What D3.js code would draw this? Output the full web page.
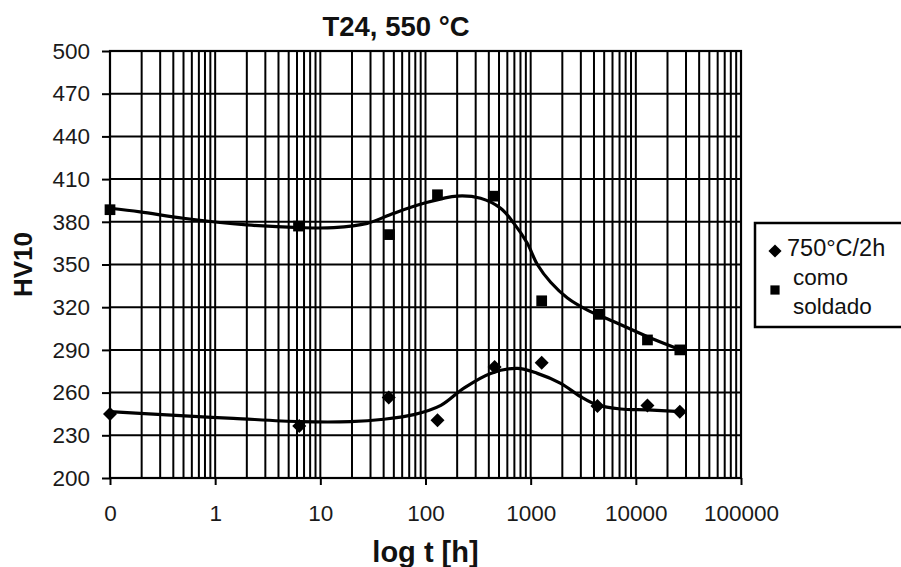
<!DOCTYPE html>
<html>
<head>
<meta charset="utf-8">
<script src="https://cdn.jsdelivr.net/npm/d3@7"></script>
<style>
  html, body { margin: 0; padding: 0; background: #fff; }
  svg { display: block; font-family: "Liberation Sans", Arial, sans-serif; }
</style>
</head>
<body>
<svg id="chart" width="901" height="567"></svg>
<script>
// Hardness HV10 of T24 welds aged at 550 °C versus log time.
// Time 0 is plotted at the first decade (0.1 h), labelled "0".

// --- tick labels ---
const xTickValues = [0.1, 1, 10, 100, 1000, 10000, 100000];
const xTickLabels = ["0", "1", "10", "100", "1000", "10000", "100000"];
const yTickValues = [200, 230, 260, 290, 320, 350, 380, 410, 440, 470, 500];

// --- measured points: 750°C/2h (diamonds) ---
const pwhtTimes = [0.1, 6.3, 44.7, 130, 454, 1273, 4315, 12900, 26200];
const pwhtHV    = [245, 236.5, 256.5, 240.5, 278, 281, 250.5, 251, 246.5];

// --- measured points: como soldado (squares) ---
const weldTimes = [0.1, 6.2, 45.4, 130, 454, 1273, 4540, 12900, 26200];
const weldHV    = [388.5, 377, 371, 399, 398, 324.5, 315, 297, 290];

// --- trend curve through the 750°C/2h points ---
const pwhtCurveT  = [0.1, 0.347, 1.49, 6.45, 19.3, 40.1, 77.5, 140, 230, 416, 747, 1158, 1931, 2993, 4315, 7197, 12920, 26830];
const pwhtCurveHV = [246.6, 244.3, 241.9, 239.6, 239.6, 241.3, 244.5, 251, 263, 273.5, 277, 273.5, 266.5, 257.1, 251.3, 248.5, 247.8, 246.6];

// --- trend curve through the como soldado points ---
const weldCurveT  = [0.1, 0.193, 0.5, 2.0, 6.45, 13.4, 27.9, 49.9, 96.4, 200, 334, 518, 693, 929, 1158, 1549, 2237, 3467, 6214, 12920, 26830];
const weldCurveHV = [389.5, 387, 382.5, 377.8, 375.9, 375.9, 378.9, 386, 393, 398.1, 396.5, 389.5, 378.9, 364.9, 350, 337.5, 326.5, 318, 309.8, 299.3, 290];

// --- legend entries ---
const legendLabels = [["750°C/2h"], ["como", "soldado"]];

const svg = d3.select("#chart");
const plotL = 110, plotR = 741, plotT = 51, plotB = 478;

const x = d3.scaleLog().domain([0.1, 100000]).range([plotL, plotR]);
const y = d3.scaleLinear().domain([200, 500]).range([plotB, plotT]);

const ink = "#000";
const gridW = 2;

// minor + major vertical grid (1..9 of every decade)
const gridX = [];
for (let e = -1; e < 5; e++) {
  for (let m = 1; m <= 9; m++) gridX.push(m * Math.pow(10, e));
}
gridX.push(100000);

const grid = svg.append("g");
grid.selectAll("line.v").data(gridX).join("line").attr("class", "v")
  .attr("x1", d => x(d)).attr("x2", d => x(d))
  .attr("y1", plotT).attr("y2", plotB)
  .attr("stroke", ink).attr("stroke-width", gridW);
grid.selectAll("line.h").data(yTickValues).join("line").attr("class", "h")
  .attr("x1", plotL).attr("x2", plotR)
  .attr("y1", d => y(d)).attr("y2", d => y(d))
  .attr("stroke", ink).attr("stroke-width", gridW);

// plot frame
svg.append("rect")
  .attr("x", plotL).attr("y", plotT)
  .attr("width", plotR - plotL).attr("height", plotB - plotT)
  .attr("fill", "none").attr("stroke", ink).attr("stroke-width", 2.2);

// axes
const xAxis = d3.axisBottom(x)
  .tickValues(xTickValues)
  .tickFormat((d, i) => xTickLabels[i])
  .tickSize(7).tickPadding(20);
const gx = svg.append("g").attr("transform", `translate(0,${plotB})`).call(xAxis);
gx.select(".domain").remove();
gx.selectAll(".tick line").attr("stroke", ink).attr("stroke-width", gridW);
gx.selectAll(".tick text").attr("fill", "#1a1a1a")
  .style("font-size", "22.5px").style("font-family", "'Liberation Sans', Arial, sans-serif");

const yAxis = d3.axisLeft(y)
  .tickValues(yTickValues)
  .tickSize(8).tickPadding(12);
const gy = svg.append("g").attr("transform", `translate(${plotL},0)`).call(yAxis);
gy.select(".domain").remove();
gy.selectAll(".tick line").attr("stroke", ink).attr("stroke-width", gridW);
gy.selectAll(".tick text").attr("fill", "#1a1a1a")
  .style("font-size", "22.5px").style("font-family", "'Liberation Sans', Arial, sans-serif");

// trend curves
const line = d3.line()
  .x(d => x(d[0])).y(d => y(d[1]))
  .curve(d3.curveCatmullRom.alpha(0.5));
const pwhtCurve = pwhtCurveT.map((t, i) => [t, pwhtCurveHV[i]]);
const weldCurve = weldCurveT.map((t, i) => [t, weldCurveHV[i]]);
[weldCurve, pwhtCurve].forEach(c => {
  svg.append("path").datum(c).attr("d", line)
    .attr("fill", "none").attr("stroke", "#000").attr("stroke-width", 3.2)
    .attr("stroke-linejoin", "round").attr("stroke-linecap", "round");
});

// markers
const diamond = d3.symbol().type(d3.symbolDiamond2).size(125);
const square = d3.symbol().type(d3.symbolSquare).size(115);

svg.append("g").selectAll("path")
  .data(pwhtTimes.map((t, i) => [t, pwhtHV[i]])).join("path")
  .attr("d", diamond)
  .attr("transform", d => `translate(${x(d[0])},${y(d[1])})`)
  .attr("fill", "#000");

svg.append("g").selectAll("path")
  .data(weldTimes.map((t, i) => [t, weldHV[i]])).join("path")
  .attr("d", square)
  .attr("transform", d => `translate(${x(d[0])},${y(d[1])})`)
  .attr("fill", "#000");

// titles
svg.append("text")
  .attr("x", 396).attr("y", 36)
  .attr("text-anchor", "middle")
  .style("font-size", "27.5px").style("font-weight", "bold").attr("fill", "#111")
  .text("T24, 550 °C");

svg.append("text")
  .attr("x", (plotL + plotR) / 2).attr("y", 562)
  .attr("text-anchor", "middle")
  .style("font-size", "29px").style("font-weight", "bold").attr("fill", "#111")
  .text("log t [h]");

svg.append("text")
  .attr("transform", `translate(32,${(plotT + plotB) / 2}) rotate(-90)`)
  .attr("text-anchor", "middle")
  .style("font-size", "26px").style("font-weight", "bold").attr("fill", "#111")
  .text("HV10");

// legend
const lg = svg.append("g");
lg.append("rect")
  .attr("x", 755).attr("y", 223).attr("width", 170).attr("height", 104)
  .attr("fill", "#fff").attr("stroke", ink).attr("stroke-width", 2.5);

lg.append("path").attr("d", d3.symbol().type(d3.symbolDiamond2).size(110))
  .attr("transform", "translate(775,251)").attr("fill", "#000");
lg.append("path").attr("d", d3.symbol().type(d3.symbolSquare).size(85))
  .attr("transform", "translate(775,290)").attr("fill", "#000");

const entryY = [[256], [285, 314]];
legendLabels.forEach((lines, i) => {
  lines.forEach((s, j) => {
    lg.append("text")
      .attr("x", i === 0 ? 787 : 793)
      .attr("y", entryY[i][j])
      .style("font-size", i === 0 ? "23.5px" : "22.5px").attr("fill", "#111")
      .text(s);
  });
});
</script>
</body>
</html>
